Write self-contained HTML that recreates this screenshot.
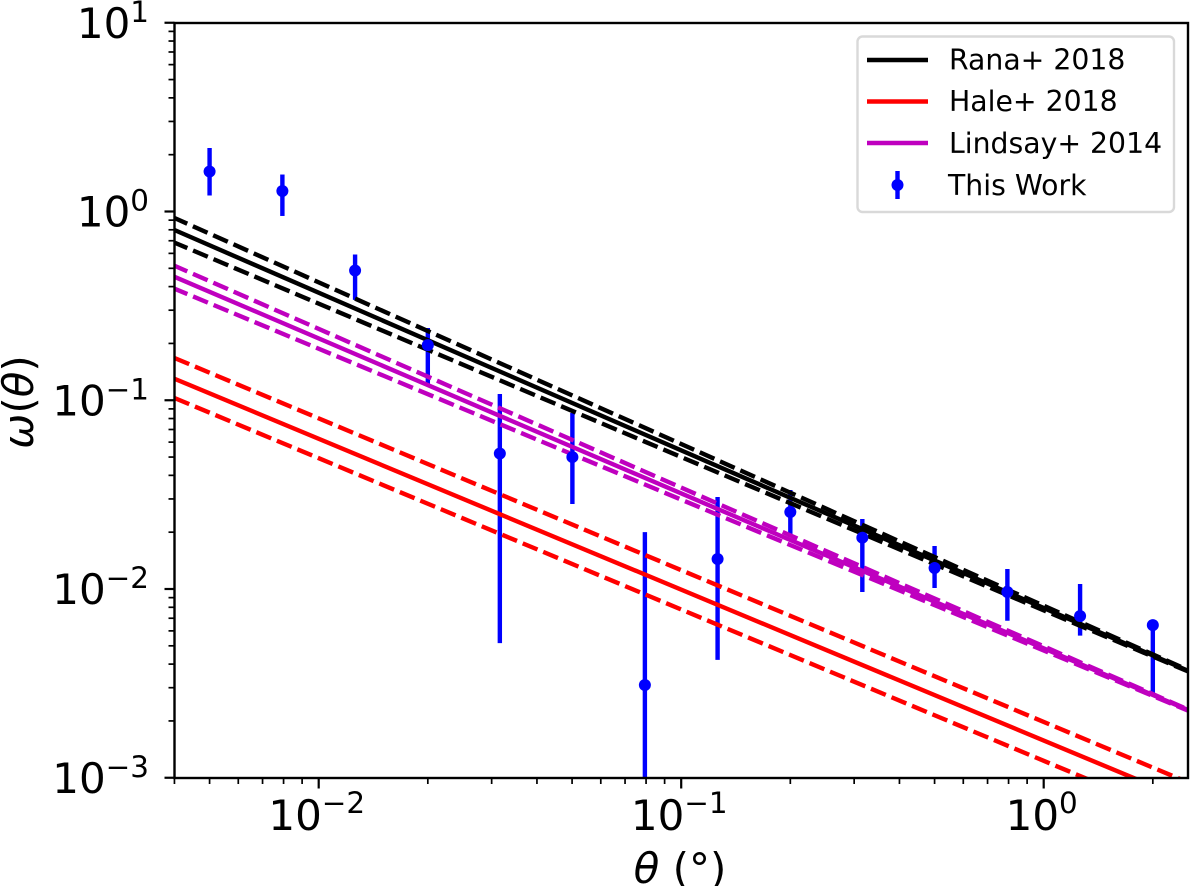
<!DOCTYPE html>
<html>
<head>
<meta charset="utf-8">
<title>Angular correlation function</title>
<style>
html,body{margin:0;padding:0;background:#fff;width:1200px;height:886px;overflow:hidden}
svg{display:block;font-family:"DejaVu Sans",sans-serif;filter:blur(0.35px)}
text{fill:#000}
</style>
</head>
<body>
<svg id="chart" xmlns="http://www.w3.org/2000/svg" width="1200" height="886" viewBox="0 0 1200 886">
<defs><clipPath id="plot-clip"><rect x="174.5" y="23" width="1013.5" height="755"/></clipPath></defs>
<rect width="1200" height="886" fill="#fff"/>
<g id="errorbars" clip-path="url(#plot-clip)"></g>
<g id="models" clip-path="url(#plot-clip)"></g>
<g id="markers" clip-path="url(#plot-clip)"></g>
<rect x="174.5" y="23" width="1013.5" height="755" fill="none" stroke="#000" stroke-width="2.4"/>
<g id="xticks"></g>
<g id="yticks"></g>
<text transform="translate(33,402) rotate(-90)" text-anchor="middle" font-size="42"><tspan font-style="italic">ω</tspan>(<tspan font-style="italic">θ</tspan>)</text>
<text x="680" y="883" text-anchor="middle" font-size="42"><tspan font-style="italic">θ</tspan> (°)</text>
<g>
<rect x="857.5" y="36.5" width="316.5" height="175.5" rx="5" fill="#fff" fill-opacity="0.9" stroke="#d9d9d9" stroke-width="2.4"/>
<line x1="867" x2="928" y1="60" y2="60" stroke="#000" stroke-width="4.4"/>
<text x="949" y="69.5" font-size="28.3">Rana+ 2018</text>
<line x1="867" x2="928" y1="101.5" y2="101.5" stroke="#f00" stroke-width="4.4"/>
<text x="949" y="111" font-size="28.3">Hale+ 2018</text>
<line x1="867" x2="928" y1="143" y2="143" stroke="#bf00bf" stroke-width="4.4"/>
<text x="949" y="153" font-size="28.3">Lindsay+ 2014</text>
<line x1="897.5" x2="897.5" y1="171" y2="199" stroke="#00f" stroke-width="4.4"/>
<circle cx="897.5" cy="185" r="6" fill="#00f"/>
<text x="948" y="195" font-size="28.3">This Work</text>
</g>
</svg>
<script>
// Measured data
const thetaDeg = [0.005, 0.00794, 0.0126, 0.02, 0.0316, 0.0501, 0.0794, 0.126, 0.2, 0.316, 0.5, 0.794, 1.26, 2.0];
const omegaValues = [1.629, 1.284, 0.487, 0.196, 0.0522, 0.05, 0.0031, 0.01442, 0.02558, 0.0187, 0.01292, 0.00964, 0.00719, 0.00644];
const omegaUpper = [2.17, 1.57, 0.592, 0.2415, 0.108, 0.0856, 0.02, 0.0307, 0.03345, 0.0235, 0.0169, 0.01276, 0.01063, 0.00644];
const omegaLower = [1.216, 0.947, 0.34, 0.1205, 0.00517, 0.0282, 0.0001, 0.00421, 0.01886, 0.00964, 0.01012, 0.00679, 0.00566, 0.00281];

// Model lines sampled at the two ends of the theta range
const modelTheta = [0.004, 2.5];
const ranaMid = [0.798, 0.00369];
const ranaHigh = [0.924, 0.00372];
const ranaLow = [0.684, 0.00366];
const haleMid = [0.13, 0.000757];
const haleHigh = [0.1675, 0.000946];
const haleLow = [0.1028, 0.00059];
const lindsayMid = [0.451, 0.002285];
const lindsayHigh = [0.516, 0.0023];
const lindsayLow = [0.39, 0.00227];

// Axis ticks
const xMajorTicks = [0.01, 0.1, 1];
const xMajorExponents = ["−2", "−1", "0"];
const yMajorTicks = [10, 1, 0.1, 0.01, 0.001];
const yMajorExponents = ["1", "0", "−1", "−2", "−3"];
const xMinorTicks = [0.004, 0.005, 0.006, 0.007, 0.008, 0.009, 0.02, 0.03, 0.04, 0.05, 0.06, 0.07, 0.08, 0.09, 0.2, 0.3, 0.4, 0.5, 0.6, 0.7, 0.8, 0.9, 2];
const yMinorTicks = [9, 8, 7, 6, 5, 4, 3, 2, 0.9, 0.8, 0.7, 0.6, 0.5, 0.4, 0.3, 0.2, 0.09, 0.08, 0.07, 0.06, 0.05, 0.04, 0.03, 0.02, 0.009, 0.008, 0.007, 0.006, 0.005, 0.004, 0.003, 0.002];

const NS = 'http://www.w3.org/2000/svg';
function xScale(v) { return 318.7 + (Math.log10(v) + 2) * 362.5; }
function yScale(v) { return 211.5 - Math.log10(v) * 188.75; }
function make(tag, attrs, parent) {
  const el = document.createElementNS(NS, tag);
  for (const k in attrs) el.setAttribute(k, attrs[k]);
  parent.appendChild(el);
  return el;
}

const errG = document.getElementById('errorbars');
const markG = document.getElementById('markers');
thetaDeg.forEach(function (t, i) {
  const bar = make('line', {x1: xScale(t), x2: xScale(t), y1: yScale(omegaUpper[i]), y2: yScale(omegaLower[i]), stroke: '#00f', 'stroke-width': 4.4}, errG);
  
  
  const dot = make('circle', {cx: xScale(t), cy: yScale(omegaValues[i]), r: 6, fill: '#00f'}, markG);
  
  
});

const modelG = document.getElementById('models');
function drawModel(values, color, dashed, name) {
  const attrs = {
    x1: xScale(modelTheta[0]), x2: xScale(modelTheta[1]),
    y1: yScale(values[0]), y2: yScale(values[1]),
    stroke: color, 'stroke-width': 4.4
  };
  if (dashed) {
    attrs['stroke-dasharray'] = '16 6.2';
    attrs['stroke-dashoffset'] = color === '#f00' ? 0 : 2;
  }
  const ln = make('line', attrs, modelG);
  
  
}
drawModel(ranaHigh, '#000', true, 'rana-upper-bound');
drawModel(ranaMid, '#000', false, 'rana-line');
drawModel(ranaLow, '#000', true, 'rana-lower-bound');
drawModel(haleHigh, '#f00', true, 'hale-upper-bound');
drawModel(haleMid, '#f00', false, 'hale-line');
drawModel(haleLow, '#f00', true, 'hale-lower-bound');
drawModel(lindsayHigh, '#bf00bf', true, 'lindsay-upper-bound');
drawModel(lindsayMid, '#bf00bf', false, 'lindsay-line');
drawModel(lindsayLow, '#bf00bf', true, 'lindsay-lower-bound');

const xG = document.getElementById('xticks');
const yG = document.getElementById('yticks');
xMinorTicks.forEach(function (v) {
  const t = make('line', {x1: xScale(v), x2: xScale(v), y1: 778, y2: 784, stroke: '#000', 'stroke-width': 1.7}, xG);
  
  
});
yMinorTicks.forEach(function (v) {
  const t = make('line', {x1: 174.5, x2: 168.5, y1: yScale(v), y2: yScale(v), stroke: '#000', 'stroke-width': 1.7}, yG);
  
  
});
function label(parent, x, y, size, str, anchor, name) {
  const el = make('text', {x: x, y: y, 'font-size': size, 'text-anchor': anchor}, parent);
  el.textContent = str;
  
  
}
xMajorTicks.forEach(function (v, i) {
  const x = xScale(v);
  const t = make('line', {x1: x, x2: x, y1: 778, y2: 788.5, stroke: '#000', 'stroke-width': 2.2}, xG);
  
  
  const e = xMajorExponents[i];
  const supW = e.length > 1 ? 43.3 : 18.7;
  const left = x - (53.4 + supW) / 2 - 2;
  label(xG, left, 830, 42, '10', 'start', 'x-tick-label-base');
  label(xG, left + 53.4, 813, 29.4, e, 'start', 'x-tick-label-exponent');
});
yMajorTicks.forEach(function (v, i) {
  const y = yScale(v);
  const t = make('line', {x1: 174.5, x2: 164.5, y1: y, y2: y, stroke: '#000', 'stroke-width': 2.2}, yG);
  
  
  const e = yMajorExponents[i];
  const supW = e.length > 1 ? 43.3 : 18.7;
  label(yG, 149, y - 1, 29.4, e, 'end', 'y-tick-label-exponent');
  label(yG, 149 - supW, y + 15, 42, '10', 'end', 'y-tick-label-base');
});
</script>
</body>
</html>
